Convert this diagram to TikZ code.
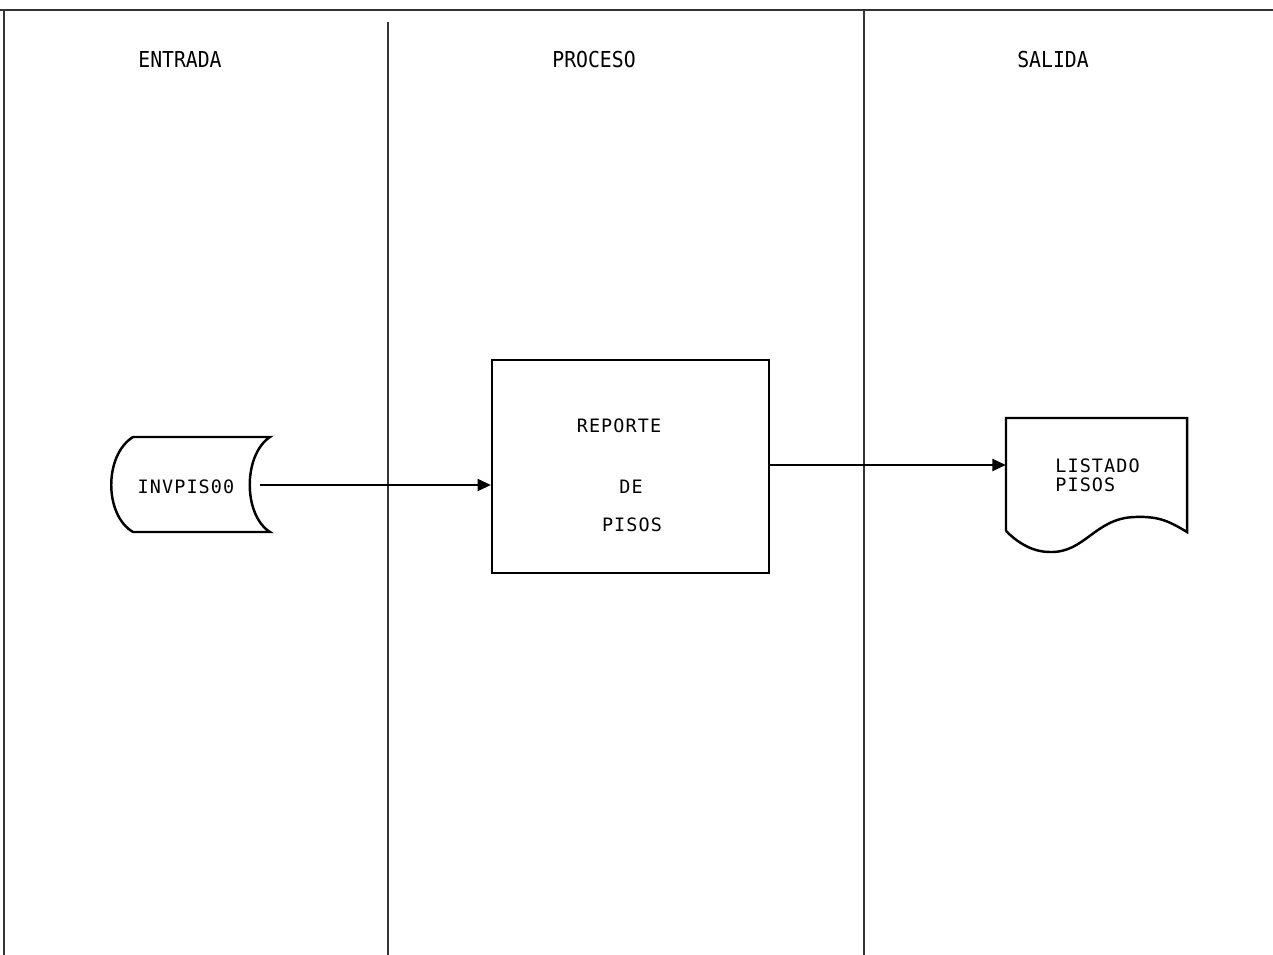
\documentclass[tikz,border=0pt]{standalone}
\usepackage{fontspec}
\usetikzlibrary{arrows.meta}
\newfontfamily\headfont[FakeStretch=0.9]{DejaVu Sans Mono}
\newfontfamily\boxfont[LetterSpace=6]{DejaVu Sans Mono}
\begin{document}
\begin{tikzpicture}[x=0.02cm,y=-0.02cm,
  frame/.style={line width=0.8pt,black!80},
  shapeline/.style={line width=1.4pt,black},
  head/.style={font=\headfont\fontsize{12.5}{14}\selectfont,inner sep=0pt},
  lbl/.style={font=\boxfont\fontsize{10.5}{12}\selectfont,inner sep=0pt},
  conn/.style={line width=0.6pt,-{Triangle[length=7.5pt,width=7pt]}},
  ghost/.style={draw=none,inner sep=0pt}]
\useasboundingbox (0,0) rectangle (1273,955);
% swimlane frame
\draw[frame] (0,10) -- (1273,10);
\draw[frame] (4,10) -- (4,955);
\draw[frame] (388,22) -- (388,955);
\draw[frame] (864,10) -- (864,955);
% headers
\node[head] (h1) at (180,60) {ENTRADA};
\node[head] (h2) at (594,60) {PROCESO};
\node[head] (h3) at (1053,60) {SALIDA};
% stored data INVPIS00
\node[ghost,minimum width=149*0.02cm,minimum height=95*0.02cm] (inv) at (185.5,485) {};
\node[lbl] (invt) at (186,487) {INVPIS00};
\draw[shapeline] (133,437) -- (270,437)
  .. controls (243,455) and (243,515) .. (270,532)
  -- (133,532)
  .. controls (104,515) and (104,455) .. (133,437) -- cycle;
% process box
\node[draw,shapeline,minimum width=277*0.02cm,minimum height=213*0.02cm] (box) at (630.5,466.5) {};
\node[lbl] (r1) at (619,426) {REPORTE};
\node[lbl] (r2) at (631,487) {DE};
\node[lbl] (r3) at (632,525) {PISOS};
% document LISTADO PISOS
\node[ghost,minimum width=181*0.02cm,minimum height=114*0.02cm] (doc) at (1096.5,475) {};
\draw[shapeline] (1006,531) -- (1006,418) -- (1187,418) -- (1187,532)
  .. controls (1170,522) and (1160,516) .. (1135,517)
  .. controls (1095,518) and (1085,553) .. (1050,552)
  .. controls (1030,552) and (1015,540) .. (1006,531);
\node[lbl,align=left,anchor=north west] (lt) at (1055,458) {LISTADO\\[-1pt]PISOS};
% connectors
\draw[conn] (inv.east) -- (box.west |- inv.east);
\draw[conn] (box.east |- 0,465) -- (doc.west |- 0,465);
\end{tikzpicture}
\end{document}
